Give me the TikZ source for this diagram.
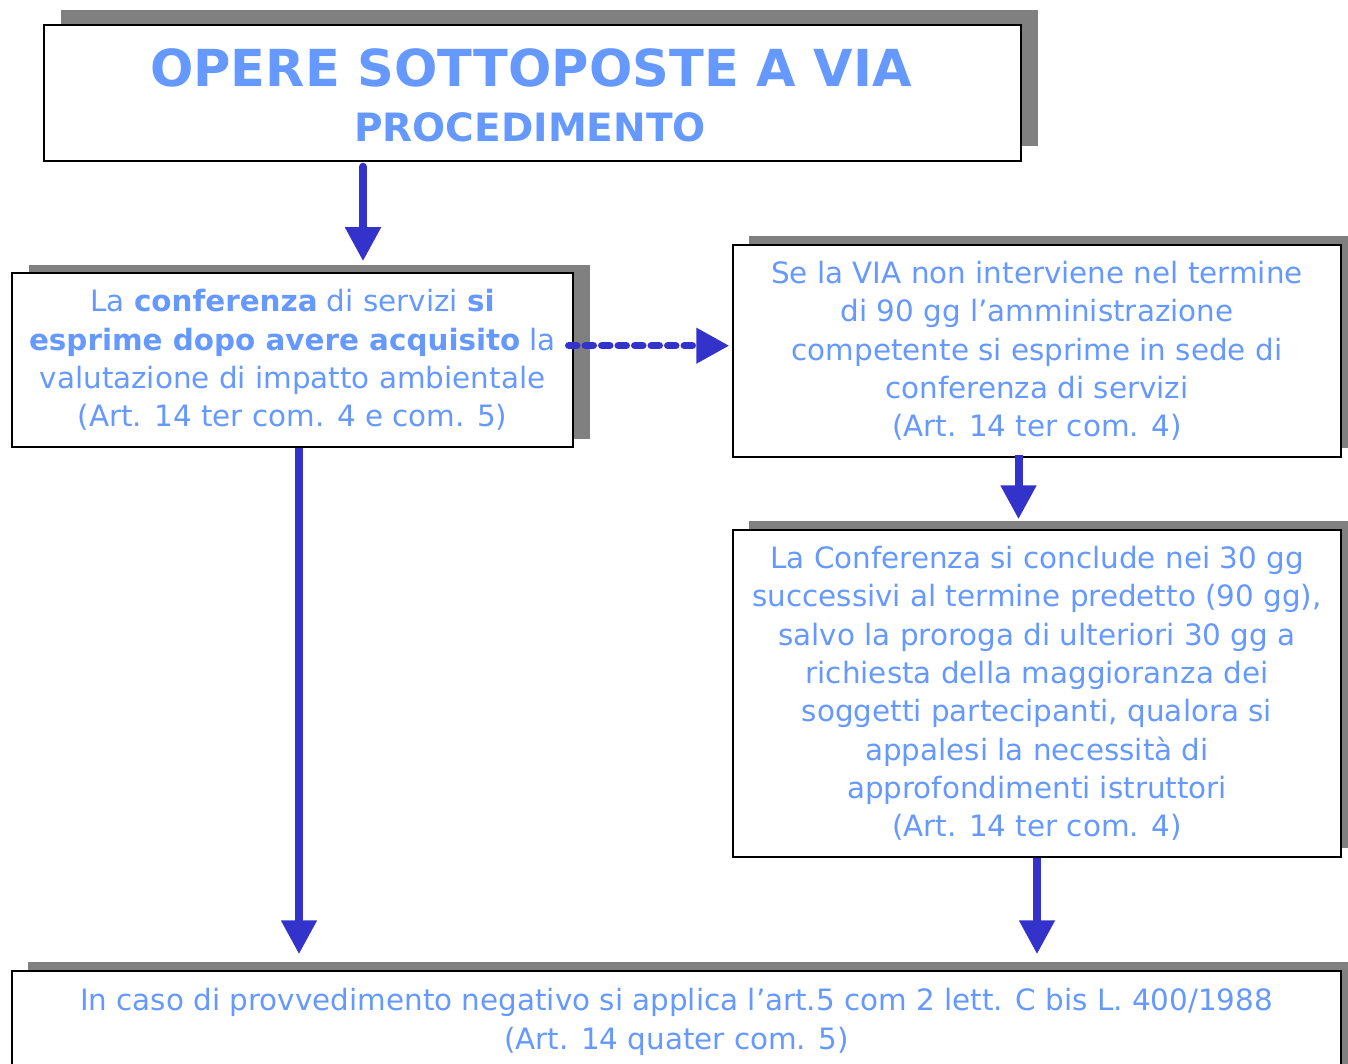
\documentclass[tikz,border=0pt]{standalone}
\usepackage{fontspec}
\setmainfont{DejaVu Sans}
\usetikzlibrary{arrows.meta,shadows}
\definecolor{txtblue}{HTML}{6699FF}
\definecolor{arrblue}{HTML}{3333CC}
\definecolor{shgray}{HTML}{808080}
\begin{document}
\begin{tikzpicture}[x=1pt,y=-1pt,
  box/.style={draw=black, line width=1.5pt, fill=white, inner sep=0pt, text=txtblue,
    align=center, font=\fontsize{29.4}{38.3}\selectfont},
  shad/.style 2 args={general shadow={fill=shgray, shadow xshift=#1, shadow yshift=#2}},
  txt/.style={inner sep=0pt, text=txtblue, align=center, font=\fontsize{29.4}{38.3}\selectfont},
  flow/.style={draw=arrblue, line width=8pt, -{Triangle[length=34pt,width=34pt]}},
  dflow/.style={draw=arrblue, line width=7.5pt, line cap=round, dash pattern=on 8pt off 8.5pt,
    -{Triangle[length=33pt,width=34pt]}},
]
\useasboundingbox (0,0) rectangle (1348,1064);

% boxes
\node[box, shad={16.5pt}{14.5pt}, minimum width=977pt, minimum height=136pt] (title) at (532.5,93) {};
\node[txt, font=\fontsize{51}{55}\selectfont\bfseries] (t1) at (531,68) {OPERE SOTTOPOSTE A VIA};
\node[txt, font=\fontsize{39}{44}\selectfont\bfseries] (t2) at (530,127) {PROCEDIMENTO};

\node[box, shad={17pt}{8pt}, minimum width=561pt, minimum height=174pt] (left) at (292.5,360)
  {La \textbf{conferenza} di servizi \textbf{si}\\
   \textbf{esprime dopo avere acquisito} la\\
   valutazione di impatto ambientale\\
   (Art. 14 ter com. 4 e com. 5)};

\node[box, shad={16pt}{9pt}, minimum width=608pt, minimum height=212pt] (r1) at (1037,351)
  {Se la VIA non interviene nel termine\\
   di 90 gg l’amministrazione\\
   competente si esprime in sede di\\
   conferenza di servizi\\
   (Art. 14 ter com. 4)};

\node[box, shad={16pt}{9pt}, minimum width=608pt, minimum height=327pt] (r2) at (1037,693.5)
  {La Conferenza si conclude nei 30 gg\\
   successivi al termine predetto (90 gg),\\
   salvo la proroga di ulteriori 30 gg a\\
   richiesta della maggioranza dei\\
   soggetti partecipanti, qualora si\\
   appalesi la necessità di\\
   approfondimenti istruttori\\
   (Art. 14 ter com. 4)};

\node[box, shad={16pt}{9pt}, minimum width=1329pt, minimum height=140pt] (bottom) at (676.5,1041) {};
\node[txt] (btext) at (676.5,1022)
  {In caso di provvedimento negativo si applica l’art.5 com 2 lett. C bis L. 400/1988\\
   (Art. 14 quater com. 5)};

% connectors
\draw[flow, line cap=round, shorten <=5pt, shorten >=11pt] ([xshift=-169.5pt]title.south) -- ([xshift=70.5pt]left.north);
\draw[flow, shorten >=16pt] ([xshift=6.5pt]left.south) -- ([xshift=6.5pt]left.south |- bottom.north);
\draw[flow, shorten <=-3pt, shorten >=10pt] ([xshift=-18.5pt]r1.south) -- ([xshift=-18.5pt]r2.north);
\draw[flow, shorten >=16pt] (r2.south) -- (r2.south |- bottom.north);
\draw[dflow, shorten >=3pt] ([xshift=-5pt,yshift=14.3pt]left.east) -- ([yshift=5.3pt]r1.west);
\end{tikzpicture}
\end{document}
